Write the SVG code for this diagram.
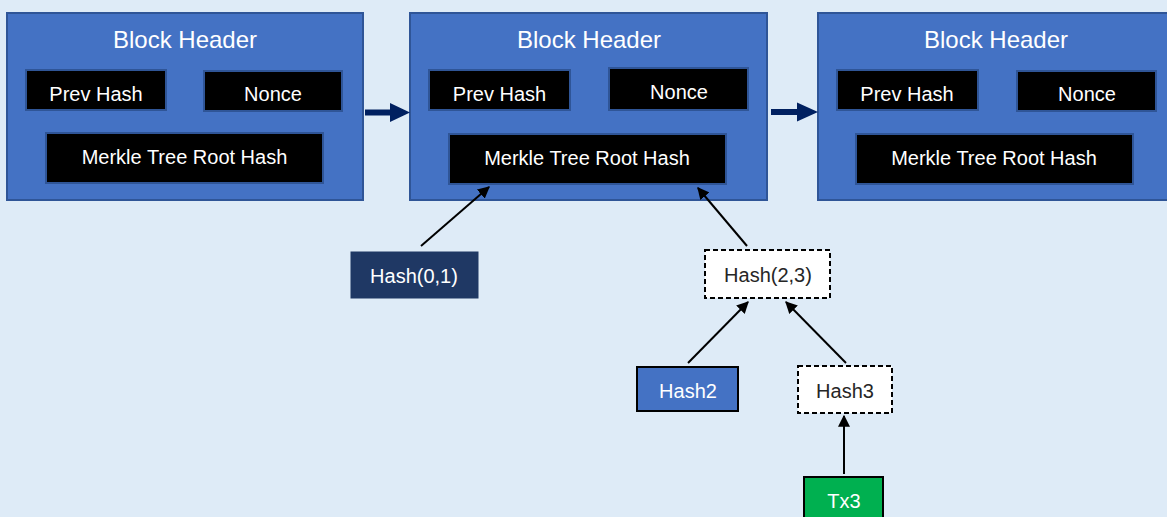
<svg xmlns="http://www.w3.org/2000/svg" width="1167" height="517" viewBox="0 0 1167 517">
<defs>
<marker id="ah" viewBox="0 0 10 10" refX="9" refY="5" markerWidth="6" markerHeight="6" markerUnits="strokeWidth" orient="auto">
<path d="M0,0 L10,5 L0,10 z" fill="#000"/>
</marker>
<style>
text{font-family:"Liberation Sans",Arial,sans-serif;text-anchor:middle}
.blk{fill:#4472C4;stroke:#2F5597;stroke-width:2}
.title{font-size:24px;fill:#fff}
.inner{fill:#000;stroke:#2F5597;stroke-width:2}
.it{font-size:20px;fill:#fff}
.dash{fill:#fff;stroke:#000;stroke-width:2;stroke-dasharray:5 3}
.dt{font-size:20px;fill:#262626}
.wt{font-size:20px;fill:#fff}
.conn{stroke:#000;stroke-width:2;fill:none;marker-end:url(#ah)}
.big{fill:#002060}
</style>
</defs>
<rect width="1167" height="517" fill="#DEEBF7"/>
<g id="block1">
<rect class="blk" x="7" y="13" width="356" height="187"/>
<text class="title" x="185" y="48">Block Header</text>
<rect class="inner" x="26" y="70" width="140" height="40"/>
<text class="it" x="96" y="101">Prev Hash</text>
<rect class="inner" x="204" y="71" width="138" height="40"/>
<text class="it" x="273" y="101">Nonce</text>
<rect class="inner" x="46" y="133" width="277" height="50"/>
<text class="it" x="184.5" y="164">Merkle Tree Root Hash</text>
</g>
<g id="block2">
<rect class="blk" x="410" y="13" width="357" height="187"/>
<text class="title" x="589" y="48">Block Header</text>
<rect class="inner" x="429" y="70" width="141" height="40"/>
<text class="it" x="499.5" y="101">Prev Hash</text>
<rect class="inner" x="609" y="68" width="139" height="42"/>
<text class="it" x="679" y="99">Nonce</text>
<rect class="inner" x="449" y="134" width="277" height="50"/>
<text class="it" x="587" y="165">Merkle Tree Root Hash</text>
</g>
<g id="block3">
<rect class="blk" x="818" y="13" width="360" height="187"/>
<text class="title" x="996" y="48">Block Header</text>
<rect class="inner" x="837" y="70" width="141" height="40"/>
<text class="it" x="907" y="101">Prev Hash</text>
<rect class="inner" x="1017" y="71" width="139" height="40"/>
<text class="it" x="1087" y="101">Nonce</text>
<rect class="inner" x="856" y="134" width="277" height="50"/>
<text class="it" x="994" y="165">Merkle Tree Root Hash</text>
</g>
<g id="hash01">
<rect x="351" y="252" width="127" height="46" fill="#1F3864" stroke="#1F3864" stroke-width="1"/>
<text class="wt" x="414" y="283">Hash(0,1)</text>
</g>
<g id="hash23">
<rect class="dash" x="705" y="250" width="125" height="48"/>
<text class="dt" x="768" y="282">Hash(2,3)</text>
</g>
<g id="hash2">
<rect x="637" y="367" width="101" height="44" fill="#4472C4" stroke="#000" stroke-width="2"/>
<text class="wt" x="688" y="398">Hash2</text>
</g>
<g id="hash3">
<rect class="dash" x="798" y="366" width="94" height="47"/>
<text class="dt" x="845" y="398">Hash3</text>
</g>
<g id="tx3">
<rect x="804" y="477" width="79" height="50" fill="#00B050" stroke="#000" stroke-width="2"/>
<text class="wt" x="844" y="508">Tx3</text>
</g>
<g id="connectors">
<path class="big" d="M365,109.5 L390,109.5 L390,103 L410,112.5 L390,122 L390,115.5 L365,115.5 z"/>
<path class="big" d="M771,109 L797,109 L797,102.5 L818,112 L797,121.5 L797,115 L771,115 z"/>
<line class="conn" x1="421" y1="246" x2="489" y2="187"/>
<line class="conn" x1="747" y1="246" x2="698" y2="188"/>
<line class="conn" x1="688" y1="363" x2="748" y2="302"/>
<line class="conn" x1="846" y1="363" x2="786" y2="302"/>
<line class="conn" x1="844" y1="474" x2="844" y2="416"/>
</g>
</svg>
